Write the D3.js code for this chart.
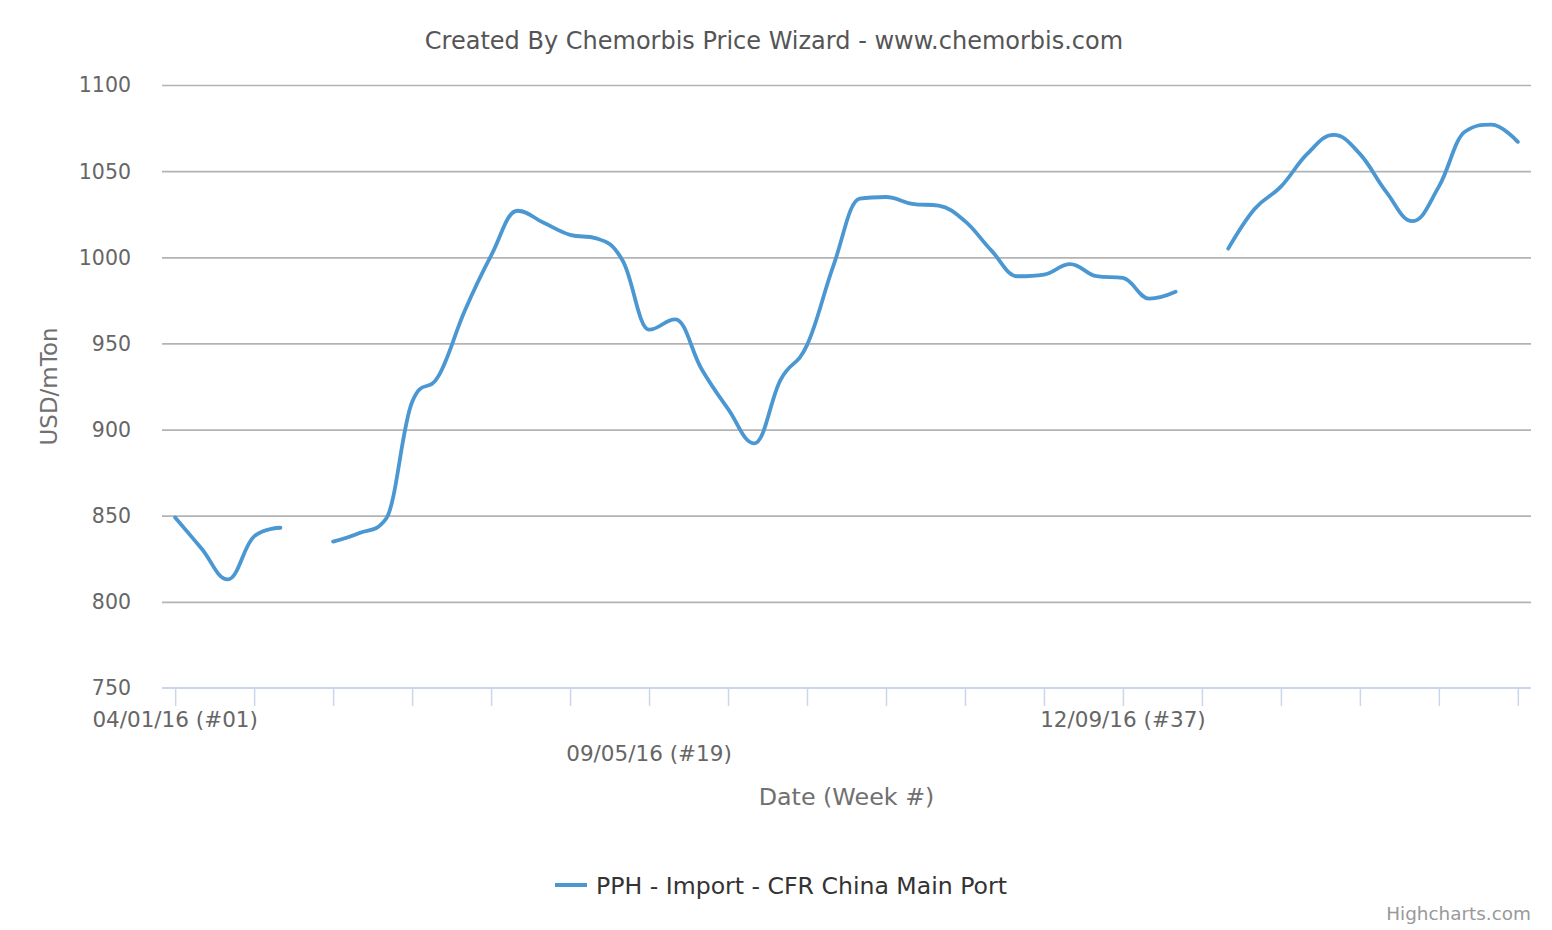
<!DOCTYPE html>
<html>
<head>
<meta charset="utf-8">
<script src="https://cdn.jsdelivr.net/npm/d3@7"></script>
<style>
  html, body { margin: 0; padding: 0; background: #fff; }
  svg { display: block; font-family: "DejaVu Sans", sans-serif; }
</style>
</head>
<body>
<svg id="chart" width="1552" height="930"></svg>
<script>
// ---- data ----
const weeks = d3.range(1, 53);
const prices = [849, 831, 813, 838, 843, null, 835, 840, 848, 916,
                931, 969, 1001, 1027, 1020, 1013, 1011, 998, 958, 964,
                935, 912, 892, 929, 949, 995, 1034, 1035, 1031, 1030,
                1021, 1004, 989, 990, 996, 989, 988, 976, 980, null,
                1005, 1028, 1041, 1060, 1071, 1060, 1038, 1021, 1041, 1073,
                1077, 1067];
const yTicks = [750, 800, 850, 900, 950, 1000, 1050, 1100];
const xTickWeeks = d3.range(1, 53, 3);
const xLabelWeeks = [1, 19, 37];
const xLabelText = ["04/01/16 (#01)", "09/05/16 (#19)", "12/09/16 (#37)"];
const seriesName = "PPH - Import - CFR China Main Port";
const titleText = "Created By Chemorbis Price Wizard - www.chemorbis.com";

// ---- layout ----
const plot = { left: 162, right: 1531, top: 85, bottom: 688 };
const lineColor = "#4a97d2";

const svg = d3.select("#chart");
svg.append("rect").attr("width", 1552).attr("height", 930).attr("fill", "#fff");

const x = d3.scaleLinear().domain([0.5, 52.5]).range([plot.left, plot.right]);
const y = d3.scaleLinear().domain([750, 1100]).range([plot.bottom, plot.top]);

// Highcharts-like spline curve
function HCSpline(context) { this._context = context; }
HCSpline.prototype = {
  areaStart() { this._line = 0; },
  areaEnd() { this._line = NaN; },
  lineStart() { this._pts = []; },
  point(px, py) { this._pts.push([+px, +py]); },
  lineEnd() {
    const p = this._pts, c = this._context, n = p.length;
    if (!n) return;
    c.moveTo(p[0][0], p[0][1]);
    const sm = 1.5, den = 2.5;
    let prevRC = null;
    for (let i = 1; i < n; i++) {
      const [px, py] = p[i];
      let lcx = px, lcy = py, rc = null;
      if (i < n - 1) {
        const [lx, ly] = p[i - 1];
        const [nx, ny] = p[i + 1];
        lcx = (sm * px + lx) / den; lcy = (sm * py + ly) / den;
        let rcx = (sm * px + nx) / den, rcy = (sm * py + ny) / den;
        let corr = 0;
        if (rcx !== lcx) corr = ((rcy - lcy) * (rcx - px)) / (rcx - lcx) + py - rcy;
        lcy += corr; rcy += corr;
        if (lcy > ly && lcy > py) { lcy = Math.max(ly, py); rcy = 2 * py - lcy; }
        else if (lcy < ly && lcy < py) { lcy = Math.min(ly, py); rcy = 2 * py - lcy; }
        if (rcy > ny && rcy > py) { rcy = Math.max(ny, py); lcy = 2 * py - rcy; }
        else if (rcy < ny && rcy < py) { rcy = Math.min(ny, py); lcy = 2 * py - rcy; }
        rc = [rcx, rcy];
      }
      const prev = prevRC || p[i - 1];
      c.bezierCurveTo(prev[0], prev[1], lcx, lcy, px, py);
      prevRC = rc;
    }
  }
};
const hcSpline = ctx => new HCSpline(ctx);

// Title
svg.append("text")
  .attr("x", 774).attr("y", 49)
  .attr("text-anchor", "middle")
  .attr("fill", "#555555")
  .style("font-size", "24px")
  .text(titleText);

// Grid lines + y labels
const yAxis = d3.axisLeft(y).tickValues(yTicks).tickSize(-(plot.right - plot.left)).tickPadding(31).tickFormat(d3.format("d"));
const gy = svg.append("g").attr("transform", `translate(${plot.left},0)`).call(yAxis);
gy.select(".domain").remove();
gy.selectAll(".tick line").attr("stroke", "#b3b3b3").attr("stroke-width", 1.7)
  .filter(d => d === 750).remove();
gy.selectAll(".tick text").attr("fill", "#666666").style("font-size", "20.5px")
  .attr("font-family", "DejaVu Sans").attr("dy", "0.34em");

// X axis
const xAxis = d3.axisBottom(x).tickValues(xTickWeeks).tickSize(18).tickFormat("");
const gx = svg.append("g").attr("transform", `translate(0,${plot.bottom})`).call(xAxis);
gx.select(".domain").attr("stroke", "#ccd6eb").attr("stroke-width", 2)
  .attr("d", `M${plot.left},0H${plot.right}`);
gx.selectAll(".tick line").attr("stroke", "#ccd6eb").attr("stroke-width", 1.5);

// X labels (staggered)
svg.append("g").selectAll("text")
  .data(xLabelWeeks)
  .join("text")
  .attr("x", d => x(d))
  .attr("y", (d, i) => i === 1 ? 761 : 727)
  .attr("text-anchor", "middle")
  .attr("fill", "#666666")
  .style("font-size", "21.5px")
  .text((d, i) => xLabelText[i]);

// Axis titles
svg.append("text")
  .attr("x", (plot.left + plot.right) / 2).attr("y", 805)
  .attr("text-anchor", "middle")
  .attr("fill", "#707070")
  .style("font-size", "23.8px")
  .text("Date (Week #)");

svg.append("text")
  .attr("transform", `translate(57,${(plot.top + plot.bottom) / 2}) rotate(-90)`)
  .attr("text-anchor", "middle")
  .attr("fill", "#707070")
  .style("font-size", "23px")
  .text("USD/mTon");

// Series line
const pts = weeks.map((w, i) => ({ w, v: prices[i] }));
const line = d3.line()
  .defined(d => d.v !== null)
  .x(d => x(d.w))
  .y(d => y(d.v))
  .curve(hcSpline);

svg.append("path")
  .datum(pts)
  .attr("d", line)
  .attr("fill", "none")
  .attr("stroke", lineColor)
  .attr("stroke-width", 3.8)
  .attr("stroke-linejoin", "round")
  .attr("stroke-linecap", "round");

// Legend
const lg = svg.append("g");
lg.append("line").attr("x1", 555).attr("x2", 587).attr("y1", 885).attr("y2", 885)
  .attr("stroke", lineColor).attr("stroke-width", 4);
lg.append("text").attr("x", 596).attr("y", 894)
  .attr("fill", "#333333").style("font-size", "23.6px")
  .text(seriesName);

// Credits
svg.append("text")
  .attr("x", 1531).attr("y", 920)
  .attr("text-anchor", "end")
  .attr("fill", "#999999")
  .style("font-size", "18.4px")
  .text("Highcharts.com");
</script>
</body>
</html>
